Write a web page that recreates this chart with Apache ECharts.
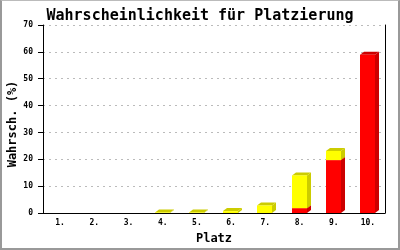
<!DOCTYPE html>
<html><head><meta charset="utf-8">
<script src="https://cdn.jsdelivr.net/npm/echarts@6/dist/echarts.min.js"></script>
<style>
html,body{margin:0;padding:0;background:#fff;}
#c{position:absolute;left:0;top:0;width:400px;height:250px;box-sizing:border-box;border-left:2px solid #999;border-right:2px solid #999;border-bottom:2px solid #999;border-top:1px solid #bbb;}
#chart{position:absolute;left:0;top:0;width:400px;height:250px;}
</style></head>
<body>
<div id="chart"></div><div id="c"></div>
<script>
var categories = ['1.','2.','3.','4.','5.','6.','7.','8.','9.','10.'];
var redValues = [0,0,0,0,0,0,0,1.8,19.7,58.9];
var yellowValues = [0,0,0,0.2,0.2,0.7,2.8,12.2,3.4,0];
var yTicks = [0,10,20,30,40,50,60,70];

var FONT = '"DejaVu Sans Mono", monospace';
var DX = 4, DY = 3;

function makeRender(front, side, top) {
  return function (params, api) {
    var idx = api.value(0), s = api.value(1), e = api.value(2);
    if (e - s <= 0) return null;
    var pb = api.coord([idx, s]);
    var pt = api.coord([idx, e]);
    var w = 15;
    var x0 = Math.round(pb[0] - 8), x1 = x0 + w;
    var yb = pb[1], yt = pt[1];
    return {
      type: 'group',
      children: [
        {type:'polygon', shape:{points:[[x1,yb],[x1+DX,yb-DY],[x1+DX,yt-DY],[x1,yt]]}, style:{fill:side}},
        {type:'polygon', shape:{points:[[x0,yt],[x0+DX,yt-DY],[x1+DX,yt-DY],[x1,yt]]}, style:{fill:top}},
        {type:'rect', shape:{x:x0, y:yt, width:w, height:yb-yt}, style:{fill:front}}
      ]
    };
  };
}

var redData = [], yellowData = [];
for (var i = 0; i < categories.length; i++) {
  redData.push([i, 0, redValues[i]]);
  yellowData.push([i, redValues[i], redValues[i] + yellowValues[i]]);
}

var chart = echarts.init(document.getElementById('chart'), null, {renderer:'canvas'});
chart.setOption({
  animation: false,
  backgroundColor: '#fff',
  title: {
    text: 'Wahrscheinlichkeit für Platzierung',
    left: 'center', top: 4,
    textStyle: {fontFamily: FONT, fontSize: 15, fontWeight: 'bold', color: '#000'}
  },
  grid: {left: 43, right: 15, top: 25, bottom: 37, containLabel: false, outerBoundsMode: 'none'},
  xAxis: {
    type: 'category', data: categories,
    axisLine: {lineStyle: {color: '#000', width: 1}},
    axisTick: {show: false},
    axisLabel: {fontFamily: FONT, fontSize: 8, fontWeight: 'bold', color: '#000', margin: 6},
    name: 'Platz', nameLocation: 'middle', nameGap: 20, nameMoveOverlap: false,
    nameTextStyle: {fontFamily: FONT, fontSize: 12, fontWeight: 'bold', color: '#000'}
  },
  yAxis: [{
    type: 'value', min: yTicks[0], max: yTicks[yTicks.length-1], interval: 10,
    axisLine: {show: true, lineStyle: {color: '#000', width: 1}},
    axisTick: {show: true, length: 5, lineStyle: {color: '#000'}},
    axisLabel: {fontFamily: FONT, fontSize: 8, fontWeight: 'bold', color: '#000', margin: 10},
    splitLine: {show: true, lineStyle: {color: '#bbb', type: [2,4], width: 1}},
    name: 'Wahrsch. (%)', nameLocation: 'middle', nameGap: 24, nameMoveOverlap: false,
    nameTextStyle: {fontFamily: FONT, fontSize: 12, fontWeight: 'bold', color: '#000', padding: [0, 10, 0, 0]}
  }, {
    type: 'value', position: 'right', min: 0, max: 70, interval: 10,
    axisLine: {show: true, lineStyle: {color: '#000', width: 1}},
    axisTick: {show: false}, axisLabel: {show: false}, splitLine: {show: false}
  }],
  series: [
    {type: 'custom', renderItem: makeRender('#ff0000', '#cc0000', '#cc0000'), data: redData, encode: {x: 0, y: [1, 2]}},
    {type: 'custom', renderItem: makeRender('#ffff00', '#cccc00', '#cccc00'), data: yellowData, encode: {x: 0, y: [1, 2]}}
  ]
});
</script>
</body></html>
